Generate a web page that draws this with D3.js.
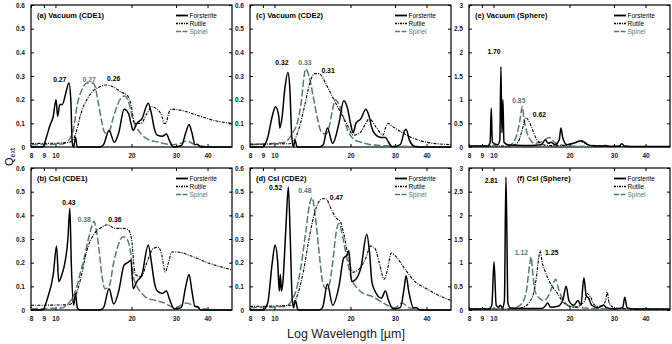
<!DOCTYPE html>
<html>
<head>
<meta charset="utf-8">
<script src="https://cdn.jsdelivr.net/npm/d3@7"></script>
<style>
  body { margin: 0; background: #fff; }
  text { font-family: Arial, "Liberation Sans", sans-serif; }
</style>
</head>
<body>
<div id="chart"></div>
<script>
// wavelength [um] / Q_ext pairs

const forsteriteA = [[8,0],[8.9,0],[9.2,0.04],[9.5,0.09],[9.8,0.13],[10.05,0.2],[10.2,0.13],[10.4,0.18],[10.65,0.18],[11,0.23],[11.3,0.27],[11.5,0.2],[11.65,0.02],[11.8,0],[12,0.04],[12.2,0],[15,0],[15.5,0.01],[16.3,0.07],[17.1,0.02],[17.8,0.06],[18.7,0.16],[19.5,0.14],[19.9,0.1],[20.3,0.07],[21,0.1],[22,0.12],[23.3,0.185],[24,0.14],[24.6,0.08],[25.3,0.05],[26.5,0.045],[27.5,0.055],[28.2,0.03],[29.3,0],[31.5,0.005],[32.8,0.06],[33.8,0.095],[34.7,0.06],[35.7,0.01],[36.5,0.012],[37.5,0],[50,0]];
const rutileA = [[8,0.015],[10,0.016],[11.3,0.02],[11.8,0.035],[12.2,0.08],[12.6,0.14],[13.3,0.2],[14.2,0.24],[15,0.255],[15.9,0.262],[17.2,0.25],[18.3,0.23],[19.2,0.22],[19.9,0.18],[20.6,0.1],[21.8,0.1],[23,0.14],[24.1,0.17],[25.2,0.16],[26.4,0.13],[26.9,0.1],[27.4,0.1],[28,0.14],[28.9,0.16],[31.4,0.155],[37.4,0.13],[43.3,0.11],[50,0.1]];
const spinelA = [[8,0.01],[10.5,0.012],[11.3,0.03],[11.8,0.08],[12.2,0.18],[12.7,0.24],[13.3,0.27],[14,0.27],[14.3,0.26],[14.7,0.2],[15.3,0.1],[15.7,0.06],[16.3,0.065],[16.9,0.12],[17.5,0.17],[18,0.2],[18.8,0.215],[19.6,0.18],[20.2,0.12],[21.3,0.07],[23,0.035],[25.7,0.02],[29.1,0.01],[31.3,0.015],[33,0.025],[35.7,0.01],[40,0.002],[50,0]];

const forsteriteB = [[8,0],[8.9,0],[9.3,0.05],[9.8,0.15],[10.1,0.27],[10.3,0.12],[10.6,0.15],[10.8,0.18],[11.2,0.3],[11.4,0.43],[11.55,0.2],[11.8,0.02],[12,0.07],[12.2,0.01],[12.5,0],[15,0],[15.5,0.01],[16.3,0.09],[17,0.025],[17.8,0.08],[18.7,0.19],[19.3,0.2],[19.9,0.21],[20.3,0.09],[21,0.12],[22,0.15],[23.3,0.275],[24,0.2],[24.6,0.12],[25.3,0.08],[26.5,0.07],[27.5,0.08],[28.2,0.05],[29.5,0.005],[31.5,0.01],[32.8,0.1],[33.8,0.15],[34.7,0.08],[35.7,0.015],[36.5,0.015],[37.5,0],[50,0]];
const rutileB = [[8,0.02],[11.3,0.022],[11.8,0.04],[12.6,0.135],[13.3,0.25],[14.2,0.32],[15,0.345],[16.1,0.36],[17.2,0.345],[18.5,0.345],[19.4,0.34],[20,0.3],[20.7,0.15],[21.8,0.14],[23,0.2],[24.4,0.26],[25.5,0.265],[26.4,0.23],[27.2,0.16],[28,0.2],[28.9,0.245],[30.2,0.245],[35.1,0.225],[40,0.2],[50,0.17]];
const spinelB = [[8,0.005],[10.5,0.008],[11.3,0.03],[12,0.08],[12.5,0.15],[13,0.22],[13.5,0.3],[14,0.36],[14.2,0.375],[14.5,0.34],[14.9,0.25],[15.3,0.14],[15.7,0.09],[16.3,0.1],[17,0.2],[17.8,0.28],[18.5,0.31],[19.2,0.3],[19.8,0.25],[20.3,0.15],[21,0.1],[22,0.07],[23,0.05],[25,0.04],[27,0.03],[29.5,0.01],[31.5,0.02],[33,0.03],[35,0.02],[38,0.005],[50,0]];

const forsteriteC = [[8,0],[9,0],[9.4,0.04],[9.8,0.13],[10.1,0.17],[10.4,0.13],[10.5,0.08],[10.7,0.12],[11,0.25],[11.3,0.315],[11.5,0.25],[11.7,0.05],[11.9,0],[12.05,0.03],[12.3,0],[15,0],[15.6,0.01],[16.2,0.08],[17,0.015],[18,0.1],[18.8,0.195],[19.5,0.16],[20,0.1],[20.5,0.06],[21,0.1],[22,0.12],[23,0.16],[23.7,0.13],[24.3,0.08],[25,0.055],[26.5,0.04],[27.5,0.04],[28.3,0.02],[29.3,0],[31.5,0.01],[32.8,0.07],[33.2,0.075],[34.2,0.03],[35.5,0.005],[37,0],[50,0]];
const rutileC = [[8,0.012],[11.5,0.014],[12,0.03],[12.6,0.09],[13.2,0.18],[13.8,0.27],[14.4,0.31],[15,0.31],[16.1,0.26],[17,0.21],[18.2,0.15],[19.5,0.09],[20.5,0.05],[21.8,0.06],[23,0.1],[23.7,0.12],[25.4,0.08],[26.9,0.05],[27.5,0.08],[28.1,0.1],[29.5,0.085],[33.4,0.05],[40,0.02],[50,0.01]];
const spinelC = [[8,0.01],[11,0.02],[11.8,0.06],[12.3,0.1],[12.8,0.2],[13.1,0.3],[13.3,0.33],[13.7,0.3],[14.2,0.22],[14.8,0.12],[15.4,0.06],[16,0.055],[16.5,0.09],[17,0.16],[17.4,0.2],[18,0.18],[18.7,0.13],[19.5,0.07],[20.5,0.035],[22,0.02],[24,0.01],[28,0.005],[50,0]];

const forsteriteD = [[8,0],[9,0],[9.4,0.03],[9.8,0.2],[10.05,0.275],[10.3,0.2],[10.45,0.08],[10.55,0.15],[10.65,0.08],[10.8,0.12],[11.1,0.35],[11.35,0.52],[11.55,0.3],[11.75,0.05],[11.9,0.01],[12.1,0.04],[12.4,0],[15,0],[15.5,0.01],[16.2,0.11],[17,0.02],[18,0.1],[18.8,0.22],[19.3,0.23],[19.7,0.25],[20.2,0.12],[21,0.13],[22,0.18],[23.2,0.32],[23.8,0.24],[24.3,0.12],[25,0.08],[26.5,0.05],[27.5,0.08],[28.3,0.04],[29.5,0.005],[31.5,0.01],[32.6,0.09],[33.2,0.145],[34,0.08],[35.5,0.01],[36.5,0.01],[37.5,0],[50,0]];
const rutileD = [[8,0.015],[11.6,0.02],[12.3,0.06],[13,0.16],[13.7,0.3],[14.5,0.42],[15.5,0.47],[16,0.47],[16.7,0.43],[17.5,0.39],[18.3,0.37],[19,0.3],[19.8,0.2],[20.5,0.16],[21.5,0.17],[23,0.22],[24,0.27],[25,0.26],[26,0.2],[27.2,0.13],[28,0.17],[29,0.24],[30,0.23],[33,0.17],[36,0.12],[40,0.09],[45,0.06],[50,0.04]];
const spinelD = [[8,0.01],[11,0.015],[11.7,0.04],[12.3,0.1],[12.8,0.2],[13.3,0.33],[13.8,0.45],[14.1,0.475],[14.5,0.4],[15,0.25],[15.5,0.12],[16,0.09],[16.5,0.11],[17,0.2],[17.5,0.32],[18,0.365],[18.7,0.3],[19.5,0.2],[20.2,0.13],[21,0.1],[22.5,0.07],[24,0.06],[26,0.04],[28,0.02],[30,0.01],[32,0.03],[34,0.01],[38,0.002],[50,0]];

const forsteriteE = [[8,0.02],[9.5,0.02],[9.7,0.1],[9.8,0.82],[9.9,0.1],[10.4,0.05],[10.6,0.15],[10.7,1.7],[10.8,0.3],[10.9,1.0],[11,0.1],[11.5,0.04],[13,0.03],[15.5,0.05],[16,0.15],[16.5,0.08],[16.9,0.1],[17.5,0.05],[18.2,0.15],[18.5,0.4],[18.8,0.2],[19.5,0.05],[20.7,0.08],[21.7,0.12],[22.3,0.13],[23,0.1],[23.6,0.05],[25,0.02],[26.8,0.02],[27.7,0.03],[29,0.01],[31.5,0.02],[32.2,0.07],[33,0.02],[35,0.01],[50,0.01]];
const rutileE = [[8,0.02],[11.5,0.02],[11.9,0.03],[12.5,0.1],[12.9,0.3],[13.2,0.5],[13.4,0.62],[13.8,0.55],[14.2,0.4],[14.7,0.2],[15.4,0.07],[16,0.04],[17,0.03],[18,0.03],[19.5,0.04],[20.5,0.07],[21.5,0.1],[22.2,0.12],[23,0.07],[24,0.04],[26,0.03],[28,0.02],[32,0.01],[50,0.005]];
const spinelE = [[8,0.01],[11,0.01],[11.5,0.03],[12,0.1],[12.5,0.35],[12.8,0.65],[13,0.85],[13.2,0.6],[13.5,0.35],[14,0.15],[14.5,0.08],[15.3,0.1],[16,0.15],[16.6,0.2],[17.1,0.15],[17.6,0.08],[18.5,0.04],[20,0.02],[25,0.01],[50,0]];

const forsteriteF = [[8,0.02],[9.6,0.02],[9.85,0.1],[10.05,1.02],[10.25,0.1],[10.5,0.06],[10.65,0.1],[10.85,0.05],[11.05,0.2],[11.2,2.81],[11.3,1.63],[11.4,0.15],[11.7,0.04],[13,0.03],[15.5,0.03],[16,0.08],[16.4,0.15],[16.8,0.06],[18,0.08],[18.8,0.2],[19.4,0.5],[19.9,0.2],[20.8,0.1],[21.6,0.2],[22.2,0.1],[22.8,0.68],[23.3,0.3],[23.8,0.25],[24.5,0.1],[26,0.05],[27.4,0.1],[28,0.05],[30,0.02],[32.5,0.05],[33.1,0.27],[33.8,0.05],[36,0.02],[50,0.02]];
const rutileF = [[8,0.02],[12,0.02],[13,0.05],[13.8,0.15],[14.4,0.35],[14.8,0.7],[15.1,1.1],[15.3,1.25],[15.6,1.0],[16,0.82],[16.9,0.54],[17.9,0.35],[19,0.15],[20,0.08],[21,0.06],[22,0.1],[23,0.2],[23.5,0.35],[24.2,0.28],[25,0.12],[26,0.08],[27,0.1],[27.8,0.2],[28.2,0.38],[28.7,0.15],[30,0.05],[33,0.03],[40,0.015],[50,0.01]];
const spinelF = [[8,0.02],[11.5,0.02],[12.3,0.05],[13,0.15],[13.5,0.4],[13.9,0.95],[14.1,1.12],[14.3,0.8],[14.6,0.4],[15.2,0.25],[15.8,0.2],[16.5,0.3],[17.1,0.5],[17.6,0.65],[18.2,0.4],[19,0.2],[20,0.08],[22,0.05],[25,0.03],[50,0.01]];

// peak labels: [wavelength, Q, text] for forsterite, spinel, rutile
const peaksA = [[10.4,0.283,"0.27"],[13.6,0.283,"0.27"],[17,0.287,"0.26"]];
const peaksB = [[11.3,0.453,"0.43"],[13.0,0.38,"0.38"],[17.2,0.383,"0.36"]];
const peaksC = [[10.7,0.358,"0.32"],[13.2,0.358,"0.33"],[16.3,0.321,"0.31"]];
const peaksD = [[10.1,0.516,"0.52"],[13.2,0.503,"0.48"],[17.6,0.474,"0.47"]];
const peaksE = [[10.05,2.01,"1.70"],[12.6,0.99,"0.85"],[15.2,0.68,"0.62"]];
const peaksF = [[9.8,2.74,"2.81"],[12.9,1.22,"1.12"],[17,1.22,"1.25"]];

const xTicks = [8, 9, 10, 20, 30, 40];
const yTicksCDE = [0, 0.1, 0.2, 0.3, 0.4, 0.5, 0.6];
const yTicksSphere = [0, 0.5, 1, 1.5, 2, 2.5, 3];
const seriesNames = ["Forsterite", "Rutile", "Spinel"];

const width = 672, height = 344;
const teal = "#56797b";
const pw = 201, ph = 142;

const svg = d3.select("#chart")
  .append("svg")
  .attr("width", width)
  .attr("height", height);

const panels = [
  { title: "(a) Vacuum (CDE1)", left: 31, top: 5, ymax: 0.6, ticks: yTicksCDE, data: [forsteriteA, rutileA, spinelA], peaks: peaksA, tx: 6 },
  { title: "(b) CsI (CDE1)", left: 31, top: 168, ymax: 0.6, ticks: yTicksCDE, data: [forsteriteB, rutileB, spinelB], peaks: peaksB, tx: 6 },
  { title: "(c) Vacuum (CDE2)", left: 250, top: 5, ymax: 0.6, ticks: yTicksCDE, data: [forsteriteC, rutileC, spinelC], peaks: peaksC, tx: 6 },
  { title: "(d) CsI (CDE2)", left: 250, top: 168, ymax: 0.6, ticks: yTicksCDE, data: [forsteriteD, rutileD, spinelD], peaks: peaksD, tx: 6 },
  { title: "(e) Vacuum (Sphere)", left: 469, top: 5, ymax: 3, ticks: yTicksSphere, data: [forsteriteE, rutileE, spinelE], peaks: peaksE, tx: 6 },
  { title: "(f) CsI (Sphere)", left: 469, top: 168, ymax: 3, ticks: yTicksSphere, data: [forsteriteF, rutileF, spinelF], peaks: peaksF, tx: 48 }
];

const styles = [
  { color: "#000", width: 1.5, dash: null },
  { color: "#000", width: 1.1, dash: "3,1.2,1,1.2" },
  { color: teal, width: 1.5, dash: "7,2.5" }
];
const peakColors = ["#000", teal, "#000"];

panels.forEach(function (p) {
  const x = d3.scaleLog().domain([8, 50]).range([0, pw]);
  const y = d3.scaleLinear().domain([0, p.ymax]).range([ph, 0]);

  const g = svg.append("g").attr("transform", "translate(" + [p.left, p.top] + ")");

  // axes

  const fmtY = d3.format("~g");
  g.append("g")
    .attr("transform", "translate(0," + ph + ")")
    .call(d3.axisBottom(x).tickValues(xTicks).tickFormat(d3.format("d")).tickSizeInner(-3).tickSizeOuter(0).tickPadding(6));
  g.append("g")
    .call(d3.axisTop(x).tickValues(xTicks).tickFormat("").tickSizeInner(-3).tickSizeOuter(0));
  g.append("g")
    .call(d3.axisLeft(y).tickValues(p.ticks).tickFormat(fmtY).tickSizeInner(-3).tickSizeOuter(0).tickPadding(6));
  g.append("g")
    .attr("transform", "translate(" + pw + ",0)")
    .call(d3.axisRight(y).tickValues(p.ticks).tickFormat("").tickSizeInner(-3).tickSizeOuter(0));

  g.selectAll(".domain").remove();
  g.selectAll(".tick line").attr("stroke", "#000");
  g.selectAll(".tick text")
    .attr("font-size", 6.5)
    .attr("font-weight", "bold")
    .attr("fill", "#222");

  g.append("rect")
    .attr("width", pw)
    .attr("height", ph)
    .attr("fill", "none")
    .attr("stroke", "#000")
    .attr("stroke-width", 1.2);

  // curves

  const line = d3.line()
    .x((d) => x(d[0]))
    .y((d) => y(d[1]))
    .curve(d3.curveMonotoneX);

  [2, 1, 0].forEach(function (i) {
    g.append("path")
      .datum(p.data[i])
      .attr("d", line)
      .attr("fill", "none")
      .attr("stroke", styles[i].color)
      .attr("stroke-width", styles[i].width)
      .attr("stroke-dasharray", styles[i].dash)
      .attr("stroke-linejoin", "round");
  });

  // peak labels

  g.selectAll(".peak")
    .data(p.peaks)
    .join("text")
    .attr("x", (d) => x(d[0]))
    .attr("y", (d) => y(d[1]))
    .attr("dy", "0.35em")
    .attr("text-anchor", "middle")
    .attr("font-size", 6.8)
    .attr("font-weight", "bold")
    .attr("fill", (d, i) => peakColors[i])
    .text((d) => d[2]);

  // title

  g.append("text")
    .attr("x", p.tx)
    .attr("y", 13)
    .attr("font-size", 7.5)
    .attr("font-weight", "bold")
    .text(p.title);

  // legend

  const lg = g.append("g").attr("transform", "translate(145,0)");
  seriesNames.forEach(function (name, i) {
    const ly = 10.5 + i * 8;
    lg.append("line")
      .attr("x1", 0).attr("x2", 12)
      .attr("y1", ly).attr("y2", ly)
      .attr("stroke", styles[i].color)
      .attr("stroke-width", i === 0 ? 1.8 : 1.3)
      .attr("stroke-dasharray", i === 0 ? null : (i === 1 ? "2,1,1,1" : "5,1.5"));
    lg.append("text")
      .attr("x", 13.5)
      .attr("y", ly)
      .attr("dy", "0.35em")
      .attr("font-size", 6.5)
      .attr("fill", i === 2 ? teal : "#000")
      .text(name);
  });
});

// axis titles

const yt = svg.append("text")
  .attr("transform", "translate(13,157) rotate(-90)")
  .attr("text-anchor", "middle")
  .attr("font-size", 11);
yt.append("tspan").text("Q");
yt.append("tspan").attr("font-size", 7).attr("dy", 2).text("ext");

svg.append("text")
  .attr("x", 346)
  .attr("y", 338)
  .attr("text-anchor", "middle")
  .attr("font-size", 12.5)
  .attr("fill", "#222")
  .text("Log Wavelength [µm]");
</script>
</body>
</html>
